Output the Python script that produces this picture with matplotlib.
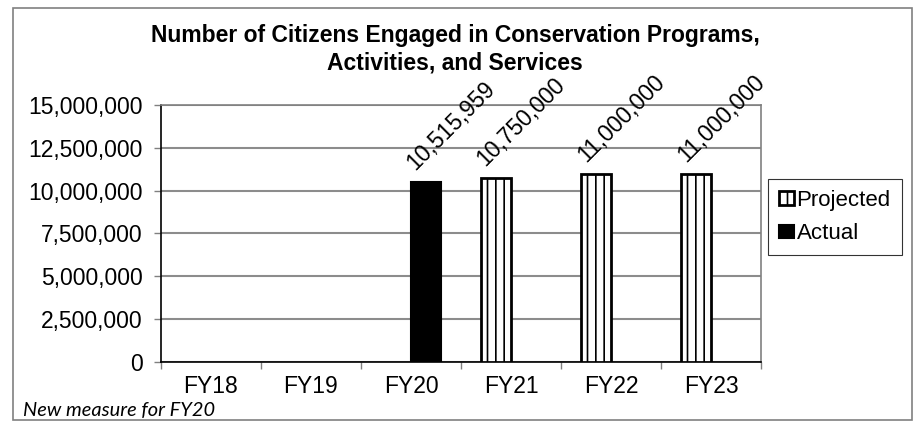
import matplotlib
matplotlib.use("Agg")
import matplotlib.pyplot as plt
import numpy as np
from matplotlib.patches import Rectangle
from matplotlib.ticker import FuncFormatter, FixedLocator

years = ["FY18", "FY19", "FY20", "FY21", "FY22", "FY23"]
projected = [None, None, None, 10750000, 11000000, 11000000]
actual = [None, None, 10515959, None, None, None]
y_ticks = [0, 2500000, 5000000, 7500000, 10000000, 12500000, 15000000]

plt.rcParams["font.family"] = ["Liberation Sans", "DejaVu Sans"]
plt.rcParams["hatch.linewidth"] = 1.2

fig = plt.figure(figsize=(9.21, 4.24), dpi=100)
ax = fig.add_axes([0.1748, 0.1462, 0.8263 - 0.1748, 0.7524 - 0.1462])

x = np.arange(len(years))
width = 0.3

proj_x = [i - 0.15 for i, v in zip(x, projected) if v is not None]
proj_v = [v for v in projected if v is not None]
act_x = [i + 0.15 for i, v in zip(x, actual) if v is not None]
act_v = [v for v in actual if v is not None]

proj_bars = ax.bar(proj_x, proj_v, width, color="white", edgecolor="black",
                   linewidth=2, hatch="||", label="Projected", zorder=3)
act_bars = ax.bar(act_x, act_v, width, color="black", edgecolor="black",
                  linewidth=1.5, label="Actual", zorder=3)

for bx, v in list(zip(act_x, act_v)) + list(zip(proj_x, proj_v)):
    ax.annotate(f"{v:,}", (bx, v), xytext=(18, 40), textcoords="offset points",
                ha="center", va="center", rotation=45, fontsize=16.5)

ax.set_xlim(-0.5, len(years) - 0.5)
ax.set_ylim(0, 15000000)
ax.yaxis.set_major_locator(FixedLocator(y_ticks))
ax.yaxis.set_major_formatter(FuncFormatter(lambda v, p: f"{int(v):,}"))
ax.set_xticks(x)
ax.set_xticklabels(years)
ax.set_xticks(np.arange(-0.5, len(years)), minor=True)
ax.tick_params(axis="x", which="major", length=0, labelsize=16.5, pad=9)
ax.tick_params(axis="x", which="minor", length=5, width=1, color="#808080")
ax.tick_params(axis="y", length=5, width=1, color="#808080", labelsize=16.5, pad=8)

ax.grid(axis="y", color="#8c8c8c", linewidth=1.5, zorder=0)
ax.set_axisbelow(True)
for side in ["top", "right"]:
    ax.spines[side].set_color("#808080")
    ax.spines[side].set_linewidth(1.2)
ax.spines["left"].set_linewidth(1.2)
ax.spines["bottom"].set_linewidth(1.2)

fig.text(0.494, 0.944, "Number of Citizens Engaged in Conservation Programs,\nActivities, and Services",
         ha="center", va="top", fontsize=16.5, fontweight="bold", linespacing=1.27)

leg = fig.legend(handles=[proj_bars, act_bars], labels=["Projected", "Actual"],
                 loc="upper left", bbox_to_anchor=(0.834, 0.578), fontsize=16,
                 frameon=True, fancybox=False, handlelength=0.68, handleheight=0.55,
                 handletextpad=0.1, borderpad=0.5, labelspacing=0.55, borderaxespad=0)
leg.get_frame().set_edgecolor("black")
leg.get_frame().set_linewidth(0.8)

fig.text(0.025, 0.018, "New measure for FY20", fontsize=14.4, style="italic",
         family=["Lato", "DejaVu Sans"], ha="left", va="baseline")

fig.patches.append(Rectangle((0.014, 0.01), 0.976, 0.972, transform=fig.transFigure,
                             fill=False, edgecolor="#808080", linewidth=1.2))

fig.savefig("out.png", dpi=100)
